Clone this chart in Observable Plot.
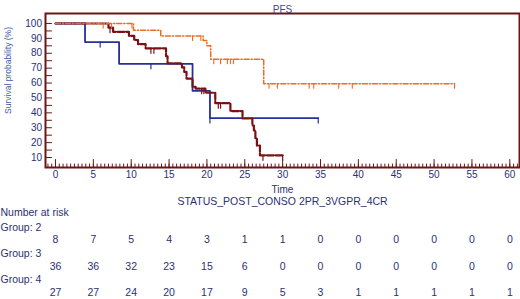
<!DOCTYPE html>
<html><head><meta charset="utf-8">
<script src="https://cdn.jsdelivr.net/npm/d3@7"></script>
<script src="https://cdn.jsdelivr.net/npm/@observablehq/plot@0.6"></script>
<style>body{margin:0;background:#fff}svg{display:block}</style>
</head><body><div id="chart"></div>
<script>
// Group 2 (blue, solid)
const g2Time = [0, 3.9, 8.4, 18.1, 20.4, 34.7];
const g2Surv = [100, 87.5, 72.9, 54.7, 36.5, 36.5];
const g2Censor = [5.9, 12.6, 20.4, 34.7];
// Group 3 (dark red, dashed)
const g3Time = [0, 7.0, 7.6, 9.7, 10.4, 10.9, 11.9, 14.6, 14.8, 16.7, 17.0, 17.3, 18.1, 18.5, 19.8, 21.1, 23.1, 24.7, 26.0, 26.2, 26.4, 26.6, 27.0, 30.0];
const g3Surv = [100, 97.2, 94.4, 91.7, 88.9, 86.1, 83.3, 78.0, 73.2, 70.5, 67.5, 63.0, 57.5, 56.2, 53.5, 46.5, 41.2, 36.2, 31.5, 28.2, 23.0, 18.0, 11.5, 11.5];
const g3Censor = [7.2, 12.6, 13.0, 19.3, 19.6, 21.5, 21.8, 27.4, 30.0];
// Group 4 (orange, dash-dot)
const g4Time = [0, 10.3, 13.9, 19.5, 20.0, 20.5, 27.5, 52.7];
const g4Surv = [100, 95.5, 91.6, 88.6, 85.0, 76.0, 59.5, 59.5];
const g4Censor = [6.3, 7.4, 10.1, 18.1, 19.2, 20.9, 21.8, 22.7, 23.1, 23.5, 28.2, 29.3, 33.5, 34.1, 37.4, 39.2, 52.7];

// Number at risk table
const riskTimes = [0, 5, 10, 15, 20, 25, 30, 35, 40, 45, 50, 55, 60];
const risk2 = [8, 7, 5, 4, 3, 1, 1, 0, 0, 0, 0, 0, 0];
const risk3 = [36, 36, 32, 23, 15, 6, 0, 0, 0, 0, 0, 0, 0];
const risk4 = [27, 27, 24, 20, 17, 9, 5, 3, 1, 1, 1, 1, 1];
const groupLabels = ["Group: 2", "Group: 3", "Group: 4"];

// Axes
const xTickLabels = [0, 5, 10, 15, 20, 25, 30, 35, 40, 45, 50, 55, 60];
const xMinorTicks = d3.range(-1, 61.01, 0.5);
const yTickLabels = [10, 20, 30, 40, 50, 60, 70, 80, 90, 100];
const yAllTicks = d3.range(10, 100.01, 5);

const title = "PFS";
const xLabel = "Time";
const subLabel = "STATUS_POST_CONSO 2PR_3VGPR_4CR";
const yLabel = "Survival probability (%)";

const toRows = (T, S) => T.map((t, i) => ({t, s: S[i]}));
const survAt = (T, S, t) => { let v = S[0]; for (let i = 0; i < T.length; i++) if (T[i] <= t) v = S[i]; return v; };
const censorRows = (C, T, S) => C.map(t => ({t, s: survAt(T, S, t)}));

const tickShape = {draw(c, l) { c.moveTo(0, 0); c.lineTo(0, -l); }};

const navy = "#2b3170";
const cBlue = "#25309c", cRed = "#7a1214", cOrange = "#f06a1e", cFrame = "#6b1616";

const chart = Plot.plot({
  width: 520, height: 299,
  marginLeft: 45, marginRight: 1, marginTop: 13, marginBottom: 132,
  style: {fontFamily: "Arial, 'Liberation Sans', sans-serif", fontSize: "10px", background: "#fff"},
  x: {domain: [-1.32, 61.28], axis: null},
  y: {domain: [3.3, 106.7], axis: null},
  marks: [
    // axis ticks (inward)
    Plot.vector(yAllTicks, {y: d => d, frameAnchor: "left", length: 6, rotate: 90, anchor: "start", shape: tickShape, stroke: cFrame, strokeWidth: 1}),
    Plot.vector(xMinorTicks, {x: d => d, frameAnchor: "bottom", length: 3.5, rotate: 0, anchor: "start", shape: tickShape, stroke: cFrame, strokeWidth: 1}),
    Plot.vector(xTickLabels, {x: d => d, frameAnchor: "bottom", length: 8, rotate: 0, anchor: "start", shape: tickShape, stroke: cFrame, strokeWidth: 1}),
    // curves
    Plot.line(toRows(g2Time, g2Surv), {x: "t", y: "s", curve: "step-after", stroke: cBlue, strokeWidth: 1.8}),
    Plot.vector(censorRows(g2Censor, g2Time, g2Surv), {x: "t", y: "s", length: 5, rotate: 180, anchor: "start", shape: tickShape, stroke: cBlue, strokeWidth: 1.2}),
    Plot.line(toRows(g3Time, g3Surv), {x: "t", y: "s", curve: "step-after", stroke: cRed, strokeWidth: 2.2, strokeDasharray: "7,1.8"}),
    Plot.vector(censorRows(g3Censor, g3Time, g3Surv), {x: "t", y: "s", length: 5, rotate: 180, anchor: "start", shape: tickShape, stroke: cRed, strokeWidth: 1.2}),
    Plot.line(toRows(g4Time, g4Surv), {x: "t", y: "s", curve: "step-after", stroke: cOrange, strokeWidth: 1.5, strokeDasharray: "5,2,1.2,2"}),
    Plot.vector(censorRows(g4Censor, g4Time, g4Surv), {x: "t", y: "s", length: 4.5, rotate: 180, anchor: "start", shape: tickShape, stroke: cOrange, strokeWidth: 1.1}),
    Plot.frame({stroke: cFrame, strokeWidth: 2}),
    // tick labels
    Plot.text(yTickLabels, {y: d => d, text: d => d, frameAnchor: "left", textAnchor: "end", dx: -3.5, fill: navy, fontSize: 10}),
    Plot.text(xTickLabels, {x: d => d, text: d => d, frameAnchor: "bottom", dy: 10, fill: navy, fontSize: 10}),
    // titles
    Plot.text([title], {text: d => d, frameAnchor: "top", dy: -8, fill: "#3e4a80", fontSize: 10}),
    Plot.text([xLabel], {text: d => d, frameAnchor: "bottom", dy: 25, fill: navy, fontSize: 10}),
    Plot.text([subLabel], {text: d => d, frameAnchor: "bottom", dy: 37, fill: navy, fontSize: 10.5}),
    Plot.text([yLabel], {text: d => d, frameAnchor: "left", textAnchor: "middle", rotate: -90, dx: -37, dy: -20, fill: "#3d5bb0", fontSize: 8.5}),
    // number at risk
    Plot.text(["Number at risk"], {text: d => d, frameAnchor: "bottom-left", textAnchor: "start", dx: -45, dy: 48.7, fill: navy, fontSize: 10.5}),
    Plot.text([groupLabels[0]], {text: d => d, frameAnchor: "bottom-left", textAnchor: "start", dx: -45, dy: 63, fill: navy, fontSize: 10.5}),
    Plot.text([groupLabels[1]], {text: d => d, frameAnchor: "bottom-left", textAnchor: "start", dx: -45, dy: 89.7, fill: navy, fontSize: 10.5}),
    Plot.text([groupLabels[2]], {text: d => d, frameAnchor: "bottom-left", textAnchor: "start", dx: -45, dy: 115.7, fill: navy, fontSize: 10.5}),
    Plot.text(riskTimes, {x: d => d, text: (d, i) => risk2[i], frameAnchor: "bottom", dy: 75.7, fill: navy, fontSize: 10.5}),
    Plot.text(riskTimes, {x: d => d, text: (d, i) => risk3[i], frameAnchor: "bottom", dy: 102, fill: navy, fontSize: 10.5}),
    Plot.text(riskTimes, {x: d => d, text: (d, i) => risk4[i], frameAnchor: "bottom", dy: 128, fill: navy, fontSize: 10.5})
  ]
});
document.getElementById("chart").append(chart);
</script>
</body></html>
